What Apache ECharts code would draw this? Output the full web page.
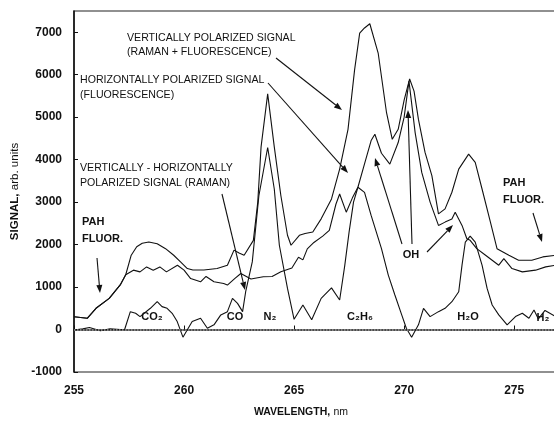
<!DOCTYPE html>
<html>
<head>
<meta charset="utf-8">
<script src="https://cdn.jsdelivr.net/npm/echarts@6/dist/echarts.min.js"></script>
<style>
  html, body { margin: 0; padding: 0; background: #fff; }
  #chart { width: 554px; height: 421px; }
</style>
</head>
<body>
<div id="chart"></div>
<script>
// wavelength (nm) / signal (arb. units)
var vertX = [255.0, 255.6, 256.0, 256.6, 257.1, 257.35, 257.6, 257.85, 258.1, 258.4, 258.78, 259.16, 259.53, 259.84, 260.15, 260.4, 260.9, 261.5, 261.97, 262.27, 262.5, 262.73, 263.15, 263.35, 263.5, 263.8, 264.1, 264.4, 264.7, 264.86, 265.24, 265.5, 265.85, 266.23, 266.7, 267.07, 267.45, 267.75, 267.98, 268.2, 268.44, 268.82, 269.2, 269.46, 269.73, 270.0, 270.25, 270.45, 270.65, 270.95, 271.26, 271.56, 271.86, 272.17, 272.48, 272.93, 273.23, 273.54, 273.92, 274.22, 274.76, 275.2, 275.8, 276.3, 276.9];
var vertY = [300, 265, 500, 733, 1050, 1290, 1750, 1950, 2030, 2060, 2020, 1904, 1749, 1592, 1436, 1400, 1400, 1436, 1515, 1870, 1800, 1750, 2100, 3000, 4300, 5550, 4300, 3150, 2220, 1984, 2218, 2260, 2295, 2606, 3075, 3778, 4714, 6120, 6979, 7100, 7200, 6510, 5105, 4480, 4714, 5400, 5900, 5613, 4948, 4169, 3623, 2724, 2840, 3232, 3778, 4130, 3934, 3309, 2529, 1904, 1749, 1632, 1632, 1710, 1750];

var horzX = [255.0, 255.6, 256.0, 256.6, 257.1, 257.35, 257.7, 258.0, 258.3, 258.6, 258.9, 259.2, 259.7, 260.0, 260.3, 260.75, 261.0, 261.36, 261.8, 261.97, 262.3, 262.58, 263.04, 263.6, 264.0, 264.4, 264.9, 265.2, 265.4, 265.6, 265.9, 266.3, 266.6, 266.9, 267.07, 267.37, 267.65, 267.9, 268.2, 268.5, 268.67, 268.97, 269.35, 269.73, 270.0, 270.22, 270.5, 270.8, 271.18, 271.56, 271.86, 272.17, 272.32, 272.63, 272.85, 273.0, 273.3, 273.7, 274.0, 274.3, 274.53, 274.9, 275.37, 275.97, 276.43, 276.9];
var horzY = [300, 265, 500, 733, 1050, 1290, 1398, 1358, 1475, 1398, 1475, 1358, 1515, 1398, 1200, 1124, 1250, 1124, 1084, 1047, 1200, 1320, 1190, 1241, 1250, 1358, 1450, 1700, 1640, 1900, 2050, 2200, 2334, 2950, 3190, 2763, 3100, 3350, 3900, 4450, 4597, 4150, 3895, 4403, 5000, 5850, 4637, 3700, 3000, 2452, 2529, 2600, 2763, 2452, 2138, 2100, 1904, 1749, 1632, 1515, 1670, 1436, 1358, 1398, 1475, 1515];

var diffX = [255.0, 255.4, 255.7, 256.2, 256.64, 257.1, 257.3, 257.56, 257.8, 258.0, 258.47, 258.78, 259.0, 259.23, 259.46, 259.69, 259.95, 260.37, 260.75, 261.06, 261.36, 261.67, 261.97, 262.2, 262.43, 262.66, 262.8, 263.1, 263.4, 263.8, 264.1, 264.33, 264.7, 265.0, 265.4, 265.8, 266.23, 266.7, 267.07, 267.3, 267.5, 267.7, 267.9, 268.2, 268.5, 268.97, 269.28, 269.58, 269.89, 270.1, 270.34, 270.65, 270.88, 271.18, 271.56, 271.86, 272.17, 272.48, 272.63, 272.78, 273.0, 273.23, 273.54, 273.77, 274.0, 274.3, 274.68, 275.06, 275.37, 275.67, 275.9, 276.1, 276.4, 276.9];
var diffY = [-10, 15, 47, -30, 15, 0, 0, 420, 382, 304, 500, 655, 539, 500, 382, 187, -180, 187, 265, 30, 110, 344, 421, 733, 616, 421, 890, 1592, 3150, 4286, 3309, 1984, 967, 240, 578, 230, 733, 980, 695, 1500, 2300, 3000, 3350, 3230, 2686, 1904, 1281, 812, 344, 30, -180, 110, 500, 304, 421, 500, 655, 890, 1515, 2060, 2200, 2060, 1515, 967, 578, 344, 110, 304, 382, 265, 461, 250, 450, 300];

function pairs(xs, ys) {
    return xs.map(function (x, i) { return [x, ys[i]]; });
}

function arrow(x1, y1, x2, y2) {
    var a = Math.atan2(y2 - y1, x2 - x1), L = 8, W = 3;
    var bx = x2 - L * Math.cos(a), by = y2 - L * Math.sin(a);
    var px = -Math.sin(a) * W, py = Math.cos(a) * W;
    return [
        {type: 'line', shape: {x1: x1, y1: y1, x2: bx, y2: by}, style: {stroke: '#111', lineWidth: 1.1}},
        {type: 'polygon', shape: {points: [[x2, y2], [bx + px, by + py], [bx - px, by - py]]}, style: {fill: '#111'}}
    ];
}

function txt(x, y, s, size, weight, align) {
    return {
        type: 'text', x: x, y: y,
        style: {
            text: s, fill: '#111', fontSize: size, fontWeight: weight || 'normal',
            fontFamily: '"Liberation Sans", "DejaVu Sans", Arial, sans-serif',
            align: align || 'left', verticalAlign: 'middle'
        }
    };
}

var lineStyle = {color: '#111', width: 1.1};
var FONT = '"Liberation Sans", Arial, sans-serif';

var graphics = [].concat(
    txt(127, 38, 'VERTICALLY POLARIZED SIGNAL', 10.6),
    txt(127, 52, '(RAMAN + FLUORESCENCE)', 10.6),
    txt(80, 80, 'HORIZONTALLY POLARIZED SIGNAL', 10.6),
    txt(80, 95, '(FLUORESCENCE)', 10.6),
    txt(80, 168, 'VERTICALLY - HORIZONTALLY', 10.6),
    txt(80, 183, 'POLARIZED SIGNAL (RAMAN)', 10.6),
    txt(82, 222, 'PAH', 11, 'bold'),
    txt(82, 239, 'FLUOR.', 11, 'bold'),
    txt(503, 183, 'PAH', 11, 'bold'),
    txt(503, 200, 'FLUOR.', 11, 'bold'),
    txt(411, 255, 'OH', 11, 'bold', 'center'),
    txt(152, 317, 'CO₂', 11, 'bold', 'center'),
    txt(235, 317, 'CO', 11, 'bold', 'center'),
    txt(270, 317, 'N₂', 11, 'bold', 'center'),
    txt(360, 317, 'C₂H₆', 11, 'bold', 'center'),
    txt(468, 317, 'H₂O', 11, 'bold', 'center'),
    txt(543, 318, 'H₂', 11, 'bold', 'center'),
    arrow(276, 58, 342, 110),
    arrow(268, 83, 348, 173),
    arrow(222, 194, 245, 290),
    arrow(97, 258, 100, 293),
    arrow(533, 213, 542, 242),
    arrow(402, 244, 375, 158),
    arrow(412, 244, 408, 110),
    arrow(427, 252, 453, 225)
);

var chart = echarts.init(document.getElementById('chart'));
chart.setOption({
    animation: false,
    backgroundColor: '#fff',
    grid: {
        left: 74, right: -2, top: 11, bottom: 49,
        outerBoundsMode: 'none',
        show: true, borderColor: '#222', borderWidth: 1.2
    },
    xAxis: {
        type: 'value', min: 255, max: 276.9, interval: 5,
        axisLine: {lineStyle: {color: '#111', width: 1.5}},
        axisTick: {inside: true, length: 4, lineStyle: {color: '#111'}},
        axisLabel: {
            color: '#111', fontSize: 12, fontWeight: 'bold', margin: 13,
            fontFamily: FONT, showMaxLabel: false,
            formatter: function (v) { return String(v); }
        },
        splitLine: {show: false},
        name: '{b|WAVELENGTH,} {n|nm}',
        nameLocation: 'middle', nameGap: 34,
        nameTextStyle: {
            padding: [0, 28, 0, 0],
            rich: {
                b: {fontSize: 10.5, fontWeight: 'bold', color: '#111', fontFamily: FONT},
                n: {fontSize: 10.5, color: '#111', fontFamily: FONT}
            }
        }
    },
    yAxis: {
        type: 'value', min: -1000, max: 7500, interval: 1000,
        axisLine: {show: true, lineStyle: {color: '#111', width: 1.5}},
        axisTick: {show: true, inside: true, length: 4, lineStyle: {color: '#111'}},
        axisLabel: {
            color: '#111', fontSize: 12, fontWeight: 'bold', margin: 12,
            fontFamily: FONT, showMaxLabel: false,
            formatter: function (v) { return String(v); }
        },
        splitLine: {show: false},
        name: '{b|SIGNAL,} {n|arb. units}',
        nameLocation: 'middle', nameGap: 52, nameRotate: 90,
        nameTextStyle: {
            rich: {
                b: {fontSize: 11.5, fontWeight: 'bold', color: '#111', fontFamily: FONT},
                n: {fontSize: 11.5, color: '#111', fontFamily: FONT}
            }
        }
    },
    series: [
        {
            name: 'Vertically polarized', type: 'line', data: pairs(vertX, vertY),
            showSymbol: false, lineStyle: lineStyle
        },
        {
            name: 'Horizontally polarized', type: 'line', data: pairs(horzX, horzY),
            showSymbol: false, lineStyle: lineStyle
        },
        {
            name: 'Vertical - horizontal', type: 'line', data: pairs(diffX, diffY),
            showSymbol: false, lineStyle: lineStyle,
            markLine: {
                silent: true, symbol: 'none', label: {show: false},
                lineStyle: {color: '#999', type: 'dotted', width: 1.5},
                data: [{yAxis: 0}]
            }
        }
    ],
    graphic: graphics
});
</script>
</body>
</html>
